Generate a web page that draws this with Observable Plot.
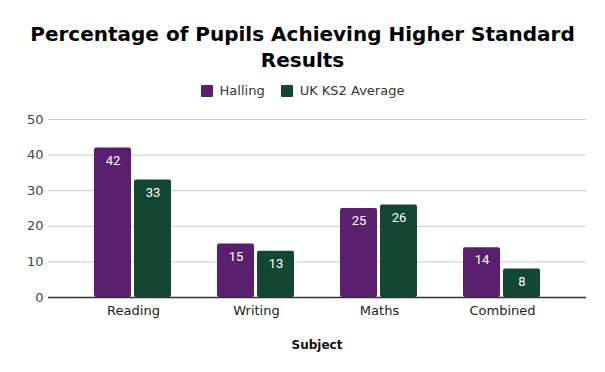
<!DOCTYPE html>
<html>
<head>
<meta charset="utf-8">
<script src="https://cdn.jsdelivr.net/npm/d3@7"></script>
<script src="https://cdn.jsdelivr.net/npm/@observablehq/plot@0.6"></script>
<style>
  html, body { margin: 0; padding: 0; background: #fff; }
  #wrap { position: relative; width: 605px; height: 372px; overflow: hidden; font-family: "DejaVu Sans", sans-serif; }
  #title { position: absolute; left: 0; top: 21px; width: 605px; text-align: center; font-weight: bold; font-size: 20px; line-height: 26px; color: #000; }
  #legend { position: absolute; left: 0; top: 83px; width: 605px; display: flex; justify-content: center; gap: 16px; font-size: 13px; color: #333; }
  #legend .item { display: flex; align-items: center; gap: 7px; }
  #legend .sw { width: 12px; height: 12px; border-radius: 1px; }
  #chart { position: absolute; left: 0; top: 105px; width: 605px; height: 267px; }
  #chart svg { position: absolute; left: 0; top: 0; max-width: none; }
  #xtitle { position: absolute; left: 48px; width: 538px; top: 338px; text-align: center; font-weight: bold; font-size: 12px; color: #111; }
</style>
</head>
<body>
<div id="wrap">
  <div id="title">Percentage of Pupils Achieving Higher Standard<br>Results</div>
  <div id="legend"></div>
  <div id="chart"></div>
  <div id="xtitle"></div>
</div>
<script>
const subjects = ["Reading", "Writing", "Maths", "Combined"];
const seriesNames = ["Halling", "UK KS2 Average"];
const halling = [42, 15, 25, 14];
const ukAverage = [33, 13, 26, 8];
const yTicks = [0, 10, 20, 30, 40, 50];
const colors = ["#5b1f6f", "#124733"];
const xTitle = "Subject";

const data = [];
subjects.forEach((s, i) => {
  data.push({subject: s, series: seriesNames[0], value: halling[i]});
  data.push({subject: s, series: seriesNames[1], value: ukAverage[i]});
});

// legend
const legend = document.getElementById("legend");
seriesNames.forEach((n, i) => {
  const it = document.createElement("div");
  it.className = "item";
  it.innerHTML = `<span class="sw" style="background:${colors[i]}"></span><span>${n}</span>`;
  legend.appendChild(it);
});
document.getElementById("xtitle").textContent = xTitle;

const common = {
  width: 605,
  height: 267,
  marginTop: 14,
  marginBottom: 75,
  marginLeft: 48,
  marginRight: 19,
  style: {fontFamily: "DejaVu Sans, sans-serif", fontSize: "13px", background: "transparent", overflow: "visible"}
};
const bandPad = {type: "band", paddingInner: 0.337, paddingOuter: 0.343};

// background: grid, axes
const back = Plot.plot({
  ...common,
  x: {domain: subjects, ...bandPad, label: null},
  y: {domain: [0, 50], label: null},
  marks: [
    Plot.gridY(yTicks.filter(d => d > 0), {stroke: "#cccccc", strokeOpacity: 1}),
    Plot.axisY(yTicks, {tickSize: 0, tickPadding: 5, fill: "#444", label: null}),
    Plot.axisX({tickSize: 0, tickPadding: 8, fill: "#222", label: null})
  ]
});

// foreground: grouped bars via facets
const front = Plot.plot({
  ...common,
  fx: {domain: subjects, paddingInner: 0.337, paddingOuter: 0.343, label: null, axis: null},
  x: {domain: seriesNames, axis: null, paddingInner: 0.073, paddingOuter: 0.037},
  y: {domain: [0, 50], axis: null},
  color: {domain: seriesNames, range: colors},
  facet: {data, x: "subject"},
  marks: [
    Plot.barY(data, {x: "series", y: "value", fill: "series", rx: 2}),
    Plot.text(data, {x: "series", y: "value", text: d => String(d.value), dy: 12.5, fill: "#fff", fontSize: 13, fontFamily: "Roboto, sans-serif"})
  ]
});

// baseline on top
const base = Plot.plot({
  ...common,
  x: {domain: subjects, ...bandPad, axis: null},
  y: {domain: [0, 50], axis: null},
  marks: [Plot.ruleY([0], {stroke: "#333", strokeWidth: 1.3})]
});

const c = document.getElementById("chart");
c.appendChild(back);
c.appendChild(front);
c.appendChild(base);
</script>
</body>
</html>
